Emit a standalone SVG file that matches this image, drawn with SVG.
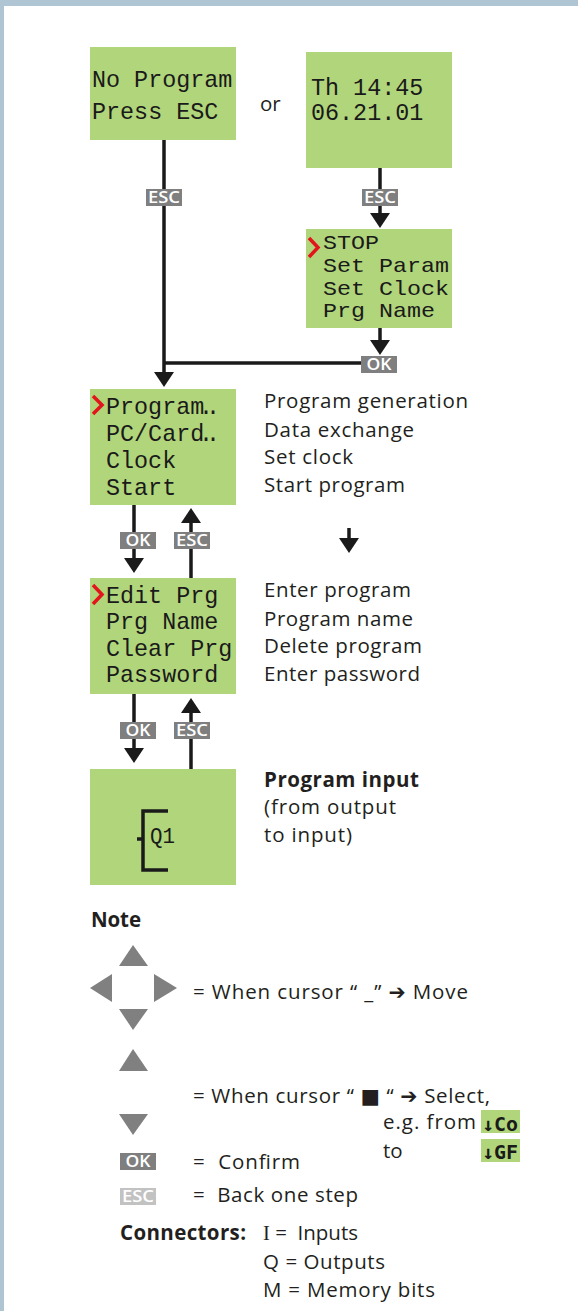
<svg xmlns="http://www.w3.org/2000/svg" xmlns:xlink="http://www.w3.org/1999/xlink" width="578" height="1311" viewBox="0 0 578 1311">
<style>
.lcd{fill:#b1d57a}
.lt{font-family:"Liberation Mono","DejaVu Sans Mono",monospace;font-size:23.4px;fill:#1a1a1a}
.lts{font-size:19.8px}
.d{font-family:"Open Sans","DejaVu Sans",sans-serif;font-size:20.5px;fill:#231f20}
.b{font-weight:bold}
.ln{stroke:#1a1a1a;stroke-width:3.5;fill:none}
.cur{stroke:#e3141b;stroke-width:3.5;fill:none}
.badge{fill:#7f7f7f}
.badge2{fill:#c2c2c2}
.bt{font-family:"Open Sans","DejaVu Sans",sans-serif;font-size:16px;font-weight:600;fill:#fff;text-anchor:middle}
.tri{fill:#808080}
</style>
<defs>
<path id="ah" d="M-10,-15 L10,-15 L0,0 z" fill="#1a1a1a"/>
</defs>
<rect x="0" y="0" width="578" height="1311" fill="#fff"/>
<rect x="0" y="0" width="578" height="6" fill="#b0c5d3"/>
<rect x="0" y="0" width="4" height="1311" fill="#b0c5d3"/>

<g id="connectors">
<line class="ln" x1="164" y1="140" x2="164" y2="373"/>
<use xlink:href="#ah" transform="translate(164,387)"/>
<line class="ln" x1="380" y1="168" x2="380" y2="214"/>
<use xlink:href="#ah" transform="translate(380,228)"/>
<line class="ln" x1="380" y1="328" x2="380" y2="341"/>
<use xlink:href="#ah" transform="translate(380,355)"/>
<line class="ln" x1="164" y1="363" x2="362" y2="363"/>
<line class="ln" x1="134" y1="505" x2="134" y2="560"/>
<use xlink:href="#ah" transform="translate(134,573)"/>
<line class="ln" x1="191" y1="578" x2="191" y2="522"/>
<use xlink:href="#ah" transform="translate(191,508) rotate(180)"/>
<line class="ln" x1="349" y1="528" x2="349" y2="539"/>
<use xlink:href="#ah" transform="translate(349,553)"/>
<line class="ln" x1="134" y1="694" x2="134" y2="750"/>
<use xlink:href="#ah" transform="translate(134,763)"/>
<line class="ln" x1="191" y1="769" x2="191" y2="712"/>
<use xlink:href="#ah" transform="translate(191,698) rotate(180)"/>
<rect class="badge" x="146" y="189" width="36" height="17"/><text class="bt" x="164" y="203" textLength="32" lengthAdjust="spacingAndGlyphs">ESC</text>
<rect class="badge" x="362" y="189" width="36" height="17"/><text class="bt" x="380" y="203" textLength="32" lengthAdjust="spacingAndGlyphs">ESC</text>
<rect class="badge" x="361" y="356" width="36" height="17"/><text class="bt" x="379" y="370" textLength="25" lengthAdjust="spacingAndGlyphs">OK</text>
<rect class="badge" x="120" y="532" width="36" height="17"/><text class="bt" x="138" y="546" textLength="25" lengthAdjust="spacingAndGlyphs">OK</text>
<rect class="badge" x="174" y="532" width="36" height="17"/><text class="bt" x="192" y="546" textLength="32" lengthAdjust="spacingAndGlyphs">ESC</text>
<rect class="badge" x="120" y="722" width="36" height="17"/><text class="bt" x="138" y="736" textLength="25" lengthAdjust="spacingAndGlyphs">OK</text>
<rect class="badge" x="174" y="722" width="36" height="17"/><text class="bt" x="192" y="736" textLength="32" lengthAdjust="spacingAndGlyphs">ESC</text>
</g>

<g id="n-noprogram">
<rect class="lcd" x="90" y="47" width="146" height="93"/>
<text class="lt" x="92" y="87">No Program</text>
<text class="lt" x="92" y="119">Press ESC</text>
</g>
<text id="or" class="d" x="260" y="111">or</text>
<g id="n-clock">
<rect class="lcd" x="306" y="52" width="146" height="116"/>
<text class="lt" x="311" y="95">Th 14:45</text>
<text class="lt" x="311" y="120">06.21.01</text>
</g>
<g id="n-stop">
<rect class="lcd" x="306" y="229" width="146" height="99"/>
<polyline class="cur" points="309,238 318,247.5 309,257"/>
<text class="lt lts" x="323" y="249" textLength="56" lengthAdjust="spacingAndGlyphs">STOP</text>
<text class="lt lts" x="323" y="272" textLength="126" lengthAdjust="spacingAndGlyphs">Set Param</text>
<text class="lt lts" x="323" y="294.5" textLength="126" lengthAdjust="spacingAndGlyphs">Set Clock</text>
<text class="lt lts" x="323" y="317" textLength="112" lengthAdjust="spacingAndGlyphs">Prg Name</text>
</g>
<g id="n-main">
<rect class="lcd" x="90" y="389" width="146" height="116"/>
<polyline class="cur" points="93,396 102,405 93,414"/>
<text class="lt" x="106 120.04 134.08 148.12 162.16 176.2 190.24 199 206" y="414">Program..</text>
<text class="lt" x="106 120.04 134.08 148.12 162.16 176.2 190.24 199 206" y="441">PC/Card..</text>
<text class="lt" x="106" y="468">Clock</text>
<text class="lt" x="106" y="495">Start</text>
<text class="d" x="264" y="408" textLength="204">Program generation</text>
<text class="d" x="264" y="437" textLength="150">Data exchange</text>
<text class="d" x="264" y="464" textLength="89">Set clock</text>
<text class="d" x="264" y="492" textLength="141">Start program</text>
</g>
<g id="n-program">
<rect class="lcd" x="90" y="578" width="146" height="116"/>
<polyline class="cur" points="93,585 102,594.5 93,604"/>
<text class="lt" x="106" y="603">Edit Prg</text>
<text class="lt" x="106" y="629">Prg Name</text>
<text class="lt" x="106" y="656">Clear Prg</text>
<text class="lt" x="106" y="682">Password</text>
<text class="d" x="264" y="597" textLength="147">Enter program</text>
<text class="d" x="264" y="626" textLength="149">Program name</text>
<text class="d" x="264" y="653" textLength="158">Delete program</text>
<text class="d" x="264" y="681" textLength="156">Enter password</text>
</g>
<g id="n-input">
<rect class="lcd" x="90" y="769" width="146" height="116"/>
<path class="ln" d="M168,811 H143 V870 H168"/>
<line class="ln" x1="137" y1="839" x2="143" y2="839"/>
<text class="lt" x="150" y="843" style="font-size:22px" textLength="25" lengthAdjust="spacingAndGlyphs">Q1</text>
<text class="d b" x="264" y="787" textLength="155">Program input</text>
<text class="d" x="264" y="814" textLength="132">(from output</text>
<text class="d" x="264" y="842" textLength="88">to input)</text>
</g>

<g id="note">
<text class="d b" x="91" y="927" textLength="50">Note</text>
<polygon class="tri" points="133,945 148,966 119,966"/>
<polygon class="tri" points="90,988 112,974 112,1002"/>
<polygon class="tri" points="177,988 154,974 154,1002"/>
<polygon class="tri" points="119,1009 148,1009 133,1030"/>
<text class="d" x="193" y="999" textLength="275">= When cursor “ _” ➔ Move</text>
<polygon class="tri" points="133,1049 148,1071 119,1071"/>
<polygon class="tri" points="119,1114 148,1114 133,1135"/>
<text class="d" x="193" y="1103" textLength="297">= When cursor “ ■ “ ➔ Select,</text>
<text class="d" x="383" y="1129" textLength="93">e.g. from</text>
<text class="d" x="383" y="1158">to</text>
<rect class="lcd" x="481" y="1110" width="39" height="23"/>
<text class="lt" x="482" y="1131" style="font-family:'DejaVu Sans Mono',monospace;font-size:19px;font-weight:bold" textLength="36" lengthAdjust="spacingAndGlyphs">↓Co</text>
<rect class="lcd" x="481" y="1139" width="39" height="23"/>
<text class="lt" x="482" y="1159" style="font-family:'DejaVu Sans Mono',monospace;font-size:19px;font-weight:bold" textLength="36" lengthAdjust="spacingAndGlyphs">↓GF</text>
<rect class="badge" x="120" y="1153" width="36" height="17"/><text class="bt" x="138" y="1167" textLength="25" lengthAdjust="spacingAndGlyphs">OK</text>
<text class="d" x="193" y="1169" textLength="107" xml:space="preserve">=  Confirm</text>
<rect class="badge2" x="120" y="1188" width="36" height="17"/><text class="bt" x="138" y="1202" textLength="32" lengthAdjust="spacingAndGlyphs">ESC</text>
<text class="d" x="193" y="1202" textLength="165" xml:space="preserve">=  Back one step</text>
<text class="d b" x="120" y="1240" textLength="126">Connectors:</text>
<text class="d" x="263" y="1240" xml:space="preserve"><tspan style="font-family:'Liberation Serif',serif">I</tspan> =  Inputs</text>
<text class="d" x="263" y="1269" textLength="122">Q = Outputs</text>
<text class="d" x="263" y="1297" textLength="172">M = Memory bits</text>
</g>
</svg>
